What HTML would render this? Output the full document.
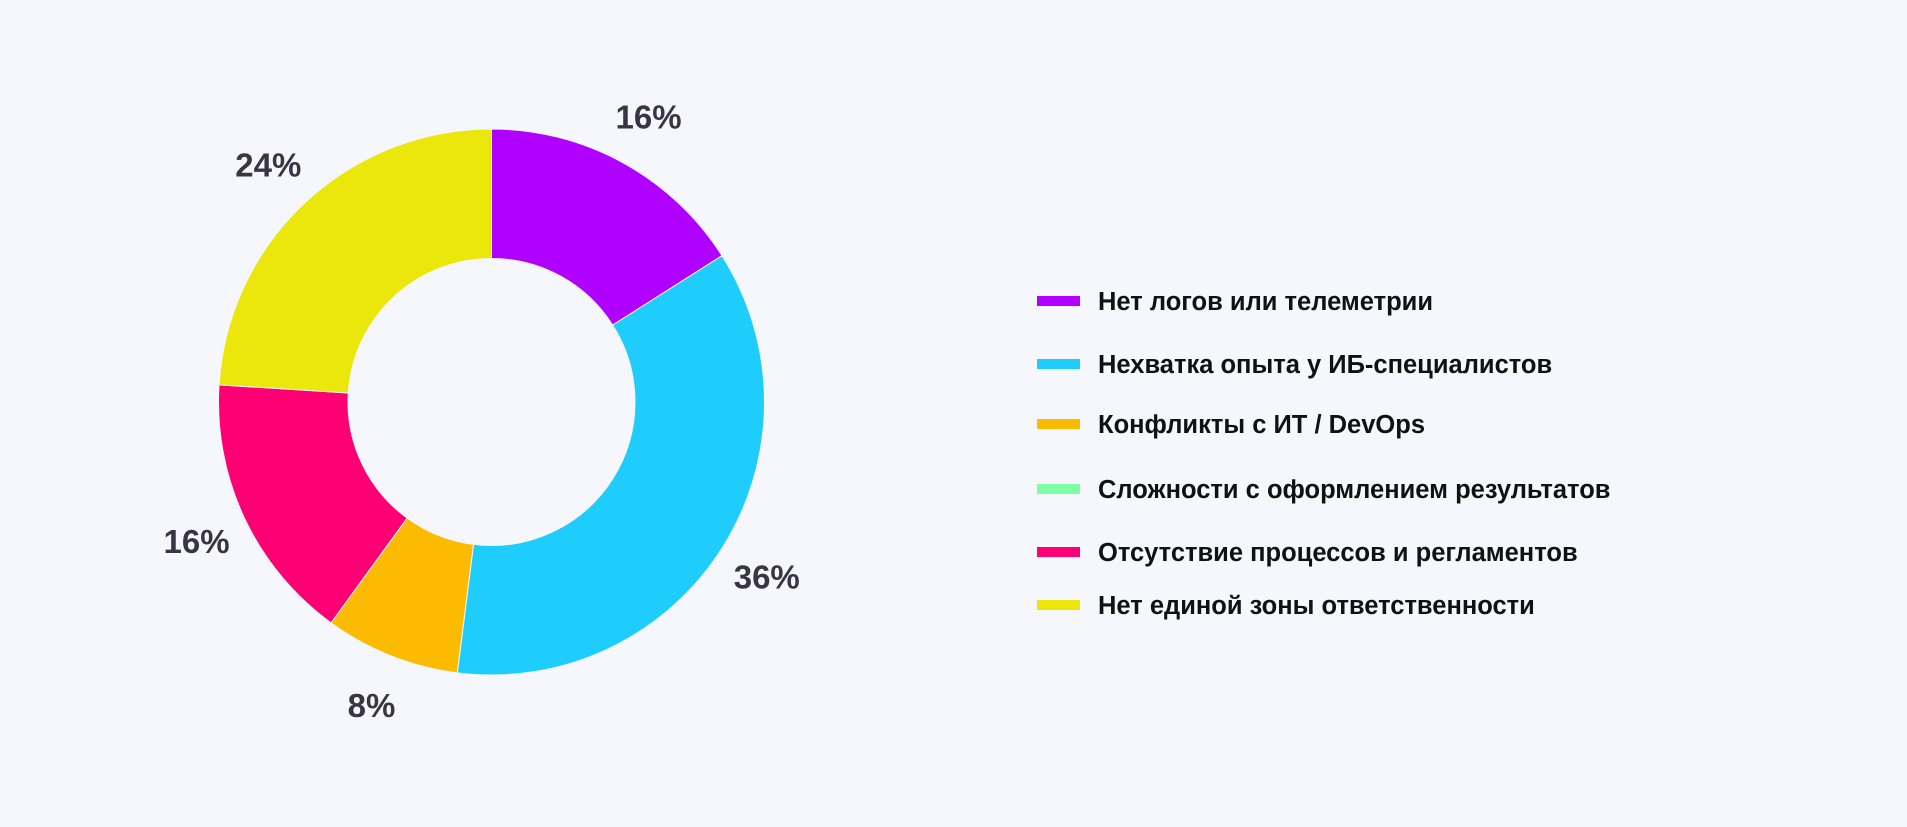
<!DOCTYPE html>
<html><head><meta charset="utf-8"><style>
html,body{margin:0;padding:0;background:#f6f7fc;}
svg{display:block;}
text{font-family:"Liberation Sans","DejaVu Sans",sans-serif;}
</style></head><body>
<svg id="chart" width="1907" height="827" viewBox="0 0 1907 827" xmlns="http://www.w3.org/2000/svg">
<rect width="1907" height="827" fill="#f6f7fc"/>
<g id="slices"></g>
<g id="labels"></g>
<g id="legend"></g>
</svg>
<script>
const categories = ["Нет логов или телеметрии","Нехватка опыта у ИБ-специалистов","Конфликты с ИТ / DevOps","Сложности с оформлением результатов","Отсутствие процессов и регламентов","Нет единой зоны ответственности"];
const values = [16,36,8,0,16,24];
const valueLabels = ["16%","36%","8%","0%","16%","24%"];
const colors = ["#b000ff","#1fcdfd","#fdbb00","#7dffa3","#ff0074","#ebe70b"];

const NS="http://www.w3.org/2000/svg";
const cx=491.5, cy=402, R=273, r=143.5, labelR=326;
const total=values.reduce((a,b)=>a+b,0);
function angle(v){return v/total*2*Math.PI;}
function pt(rad,a){return [cx+rad*Math.sin(a), cy-rad*Math.cos(a)];}
const gS=document.getElementById('slices'), gL=document.getElementById('labels'), gG=document.getElementById('legend');
let acc=0;
values.forEach((v,i)=>{
  const a0=angle(acc), a1=angle(acc+v); acc+=v;
  if(v>0){
    const large=(a1-a0)>Math.PI?1:0;
    const p1=pt(R,a0),p2=pt(R,a1),p3=pt(r,a1),p4=pt(r,a0);
    const d=`M${p1[0]},${p1[1]} A${R},${R} 0 ${large} 1 ${p2[0]},${p2[1]} L${p3[0]},${p3[1]} A${r},${r} 0 ${large} 0 ${p4[0]},${p4[1]} Z`;
    const p=document.createElementNS(NS,'path');
    p.setAttribute('d',d);p.setAttribute('fill',colors[i]);
    p.setAttribute('stroke','#f6f7fc');p.setAttribute('stroke-width','1');
    
    
    gS.appendChild(p);
    const am=(a0+a1)/2, lp=pt(labelR,am);
    const t=document.createElementNS(NS,'text');
    t.setAttribute('x',lp[0]);t.setAttribute('y',lp[1]+12);
    t.setAttribute('text-anchor','middle');t.setAttribute('font-size','33');
    t.setAttribute('font-weight','bold');t.setAttribute('fill','#3a3545');
    t.textContent=valueLabels[i];
    
    
    gL.appendChild(t);
  }
});
const rowY=[301,364,424,489,552,605];
categories.forEach((c,i)=>{
  const g=document.createElementNS(NS,'g');
  
  
  const s=document.createElementNS(NS,'rect');
  s.setAttribute('x',1037);s.setAttribute('y',rowY[i]-5);s.setAttribute('width',43);s.setAttribute('height',10);
  s.setAttribute('fill',colors[i]);
  
  
  const t=document.createElementNS(NS,'text');
  t.setAttribute('x',1098);t.setAttribute('y',rowY[i]+9);
  t.setAttribute('font-size','25.5');t.setAttribute('font-weight','bold');t.setAttribute('fill','#111');
  t.textContent=c;
  
  
  g.appendChild(s);g.appendChild(t);gG.appendChild(g);
});
</script>
</body></html>
